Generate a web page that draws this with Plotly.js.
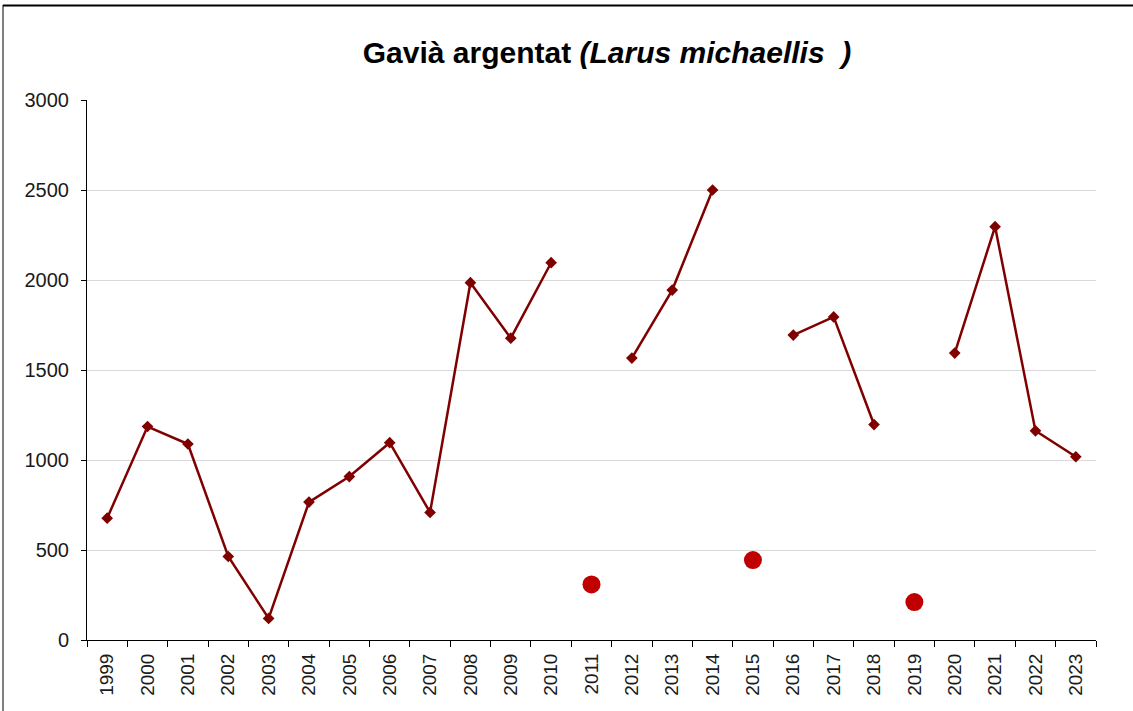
<!DOCTYPE html>
<html>
<head>
<meta charset="utf-8">
<script src="https://cdn.plot.ly/plotly-3.0.1.min.js"></script>
<style>html,body{margin:0;padding:0;background:#fff;}#chart{width:1133px;height:711px;}</style>
</head>
<body>
<div id="chart"></div>
<script>
const years = ["1999","2000","2001","2002","2003","2004","2005","2006","2007","2008","2009","2010","2011","2012","2013","2014","2015","2016","2017","2018","2019","2020","2021","2022","2023"];
const counts = [677,1186,1089,464,120,766,908,1096,709,1985,1677,2096,null,1566,1944,2500,null,1694,1795,1197,null,1594,2296,1162,1018];
const partialYears = ["2011","2015","2019"];
const partialCounts = [309,444,211];
const yTicks = [0,500,1000,1500,2000,2500,3000];

const L = 87, R = 1096, T = 100, B = 640, W = 1133, H = 711;
const px = v => (v - L) / (R - L);
const py = v => (B - v) / (B - T);

const traces = [
  {
    x: years, y: counts, type: 'scatter', mode: 'lines+markers',
    connectgaps: false,
    line: {color: '#800000', width: 2.5},
    marker: {symbol: 'diamond', size: 9, color: '#800000'},
    hoverinfo: 'x+y'
  },
  {
    x: partialYears, y: partialCounts, type: 'scatter', mode: 'markers',
    marker: {symbol: 'circle', size: 18, color: '#C00000'},
    hoverinfo: 'x+y'
  }
];

const layout = {
  width: W, height: H,
  margin: {l: L, r: W - R, t: T, b: H - B, pad: 0},
  paper_bgcolor: '#ffffff', plot_bgcolor: '#ffffff',
  showlegend: false,
  font: {family: 'Liberation Sans, Arial, sans-serif', color: '#1a1a1a'},
  title: {
    text: '<b>Gavià argentat <i>(Larus michaellis&nbsp; )</i></b>',
    font: {family: 'Liberation Sans, Arial, sans-serif', size: 30, color: '#000000'},
    x: 607 / W, xanchor: 'center', xref: 'container',
    y: 1 - 52 / H, yanchor: 'middle', yref: 'container'
  },
  xaxis: {
    type: 'category', categoryorder: 'array', categoryarray: years,
    range: [-0.5, years.length - 0.5],
    tickson: 'boundaries', ticks: 'outside', ticklen: 6, tickcolor: '#000', tickwidth: 1,
    showline: true, linecolor: '#000', linewidth: 1,
    showgrid: false, zeroline: false,
    tickangle: -90,
    tickfont: {size: 19, color: '#1a1a1a'},
    ticklabelstandoff: 5,
    fixedrange: true
  },
  yaxis: {
    range: [0, 3000], tickvals: yTicks, ticktext: yTicks.map(String),
    ticks: 'outside', ticklen: 5, tickcolor: '#000', tickwidth: 1,
    showline: true, linecolor: '#000', linewidth: 1,
    showgrid: true, gridcolor: '#d9d9d9', gridwidth: 1,
    zeroline: false,
    tickfont: {size: 20, color: '#1a1a1a'},
    ticklabelstandoff: 8,
    fixedrange: true
  },
  shapes: [
    {type: 'line', xref: 'paper', yref: 'paper', x0: px(3), x1: px(W + 5), y0: py(5.5), y1: py(5.5), line: {color: '#000', width: 2}},
    {type: 'line', xref: 'paper', yref: 'paper', x0: px(3), x1: px(3), y0: py(5), y1: py(H + 5), line: {color: '#000', width: 1}}
  ]
};

Plotly.newPlot('chart', traces, layout, {displayModeBar: false, staticPlot: true});
</script>
</body>
</html>
